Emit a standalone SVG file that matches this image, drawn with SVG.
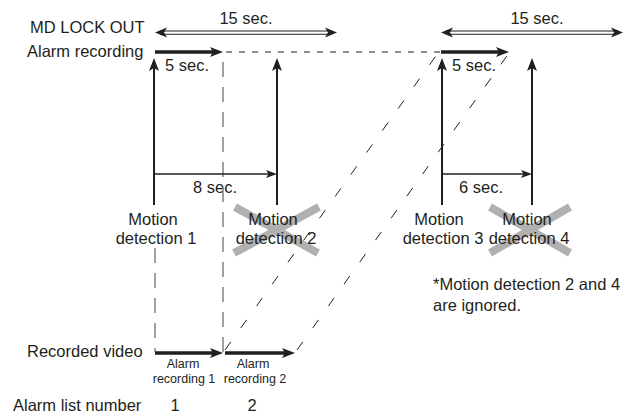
<svg xmlns="http://www.w3.org/2000/svg" width="636" height="414" viewBox="0 0 636 414">
<style>
text{font-family:"Liberation Sans",Arial,sans-serif;fill:#231f20;font-size:16.5px}
.s{font-size:12.5px}
.m{text-anchor:middle}
.thick{stroke:#231f20;stroke-width:3.6;fill:none}
.vert{stroke:#231f20;stroke-width:2;fill:none}
.thin{stroke:#231f20;stroke-width:1.3;fill:none}
.dbl{stroke:#231f20;stroke-width:1.1;fill:none}
.hd{stroke:#231f20;stroke-width:1.2;stroke-dasharray:6 7;fill:none}
.gd{stroke:#8a8a8a;stroke-width:1.6;stroke-dasharray:15 10;fill:none}
.dd{stroke:#231f20;stroke-width:1;stroke-dasharray:10 17;fill:none}
.x{stroke:#b0b0b0;stroke-width:8;fill:none}
.head{fill:#231f20}
</style>
<defs>
<marker id="ah" markerUnits="userSpaceOnUse" viewBox="0 0 13 10" refX="4" refY="5" markerWidth="13" markerHeight="10" orient="auto">
<path d="M0,0 L13,5 L0,10 L3,5 z" fill="#231f20"/>
</marker>
<marker id="ahs" markerUnits="userSpaceOnUse" viewBox="0 0 11 8" refX="4" refY="4" markerWidth="11" markerHeight="8" orient="auto">
<path d="M0,0 L11,4 L0,8 L2.5,4 z" fill="#231f20"/>
</marker>
</defs>

<g id="ignored-marks">
<line class="x" x1="235" y1="207" x2="318" y2="253"/>
<line class="x" x1="234" y1="253" x2="319" y2="207"/>
<line class="x" x1="490" y1="207" x2="570" y2="253"/>
<line class="x" x1="490" y1="253" x2="570" y2="207"/>
</g>

<g id="labels">
<text x="30" y="33">MD LOCK OUT</text>
<text x="27" y="57">Alarm recording</text>
<text x="27" y="357">Recorded video</text>
<text x="13" y="411">Alarm list number</text>
<text class="m" x="175" y="411">1</text>
<text class="m" x="252" y="411">2</text>
<text class="m" x="246" y="24">15 sec.</text>
<text class="m" x="537" y="24">15 sec.</text>
<text class="m" x="187" y="71">5 sec.</text>
<text class="m" x="474" y="71">5 sec.</text>
<text class="m" x="215" y="193">8 sec.</text>
<text class="m" x="481" y="193">6 sec.</text>
<text x="433" y="290">*Motion detection 2 and 4</text>
<text x="433" y="311">are ignored.</text>
</g>

<g id="md1"><text class="m" x="153" y="225">Motion</text><text class="m" x="156" y="244">detection 1</text></g>
<g id="md2"><text class="m" x="273" y="225">Motion</text><text class="m" x="276" y="244">detection 2</text></g>
<g id="md3"><text class="m" x="439" y="225">Motion</text><text class="m" x="443" y="244">detection 3</text></g>
<g id="md4"><text class="m" x="527" y="225">Motion</text><text class="m" x="529" y="244">detection 4</text></g>
<g id="rec1"><text class="m s" x="183" y="368">Alarm</text><text class="m s" x="184" y="383">recording 1</text></g>
<g id="rec2"><text class="m s" x="253" y="368">Alarm</text><text class="m s" x="255" y="383">recording 2</text></g>

<g id="connectors">
<!-- guide dashes -->
<line class="hd" x1="226" y1="52" x2="440" y2="52"/>
<line class="gd" x1="223" y1="62" x2="223" y2="352"/>
<line class="gd" x1="155" y1="248" x2="155" y2="352"/>
<line class="dd" x1="225" y1="350" x2="438" y2="53"/>
<line class="dd" x1="297" y1="350" x2="509" y2="53"/>

<!-- lockout double arrows -->
<line class="dbl" x1="160" y1="31" x2="332" y2="31"/>
<line class="dbl" x1="160" y1="34.2" x2="332" y2="34.2"/>
<path class="head" d="M155,32.6 L167,27.6 L164,32.6 L167,37.6 z"/>
<path class="head" d="M337,32.6 L325,27.6 L328,32.6 L325,37.6 z"/>
<line class="dbl" x1="446" y1="31" x2="618" y2="31"/>
<line class="dbl" x1="446" y1="34.2" x2="618" y2="34.2"/>
<path class="head" d="M441,32.6 L453,27.6 L450,32.6 L453,37.6 z"/>
<path class="head" d="M623,32.6 L611,27.6 L614,32.6 L611,37.6 z"/>

<!-- alarm recording thick arrows -->
<line class="thick" x1="155" y1="52" x2="214" y2="52" marker-end="url(#ah)"/>
<line class="thick" x1="441" y1="52" x2="500" y2="52" marker-end="url(#ah)"/>

<!-- motion detection vertical arrows -->
<line class="vert" x1="154" y1="205" x2="154" y2="67" marker-end="url(#ah)"/>
<line class="vert" x1="277" y1="205" x2="277" y2="67" marker-end="url(#ah)"/>
<line class="vert" x1="442" y1="205" x2="442" y2="67" marker-end="url(#ah)"/>
<line class="vert" x1="532" y1="205" x2="532" y2="67" marker-end="url(#ah)"/>

<!-- interval arrows -->
<line class="thin" x1="154" y1="174" x2="270" y2="174" marker-end="url(#ahs)"/>
<line class="thin" x1="442" y1="174" x2="525" y2="174" marker-end="url(#ahs)"/>

<!-- recorded video arrows -->
<line class="thick" x1="155" y1="353" x2="214" y2="353" marker-end="url(#ah)"/>
<line class="thick" x1="225" y1="353" x2="286" y2="353" marker-end="url(#ah)"/>
</g>
</svg>
